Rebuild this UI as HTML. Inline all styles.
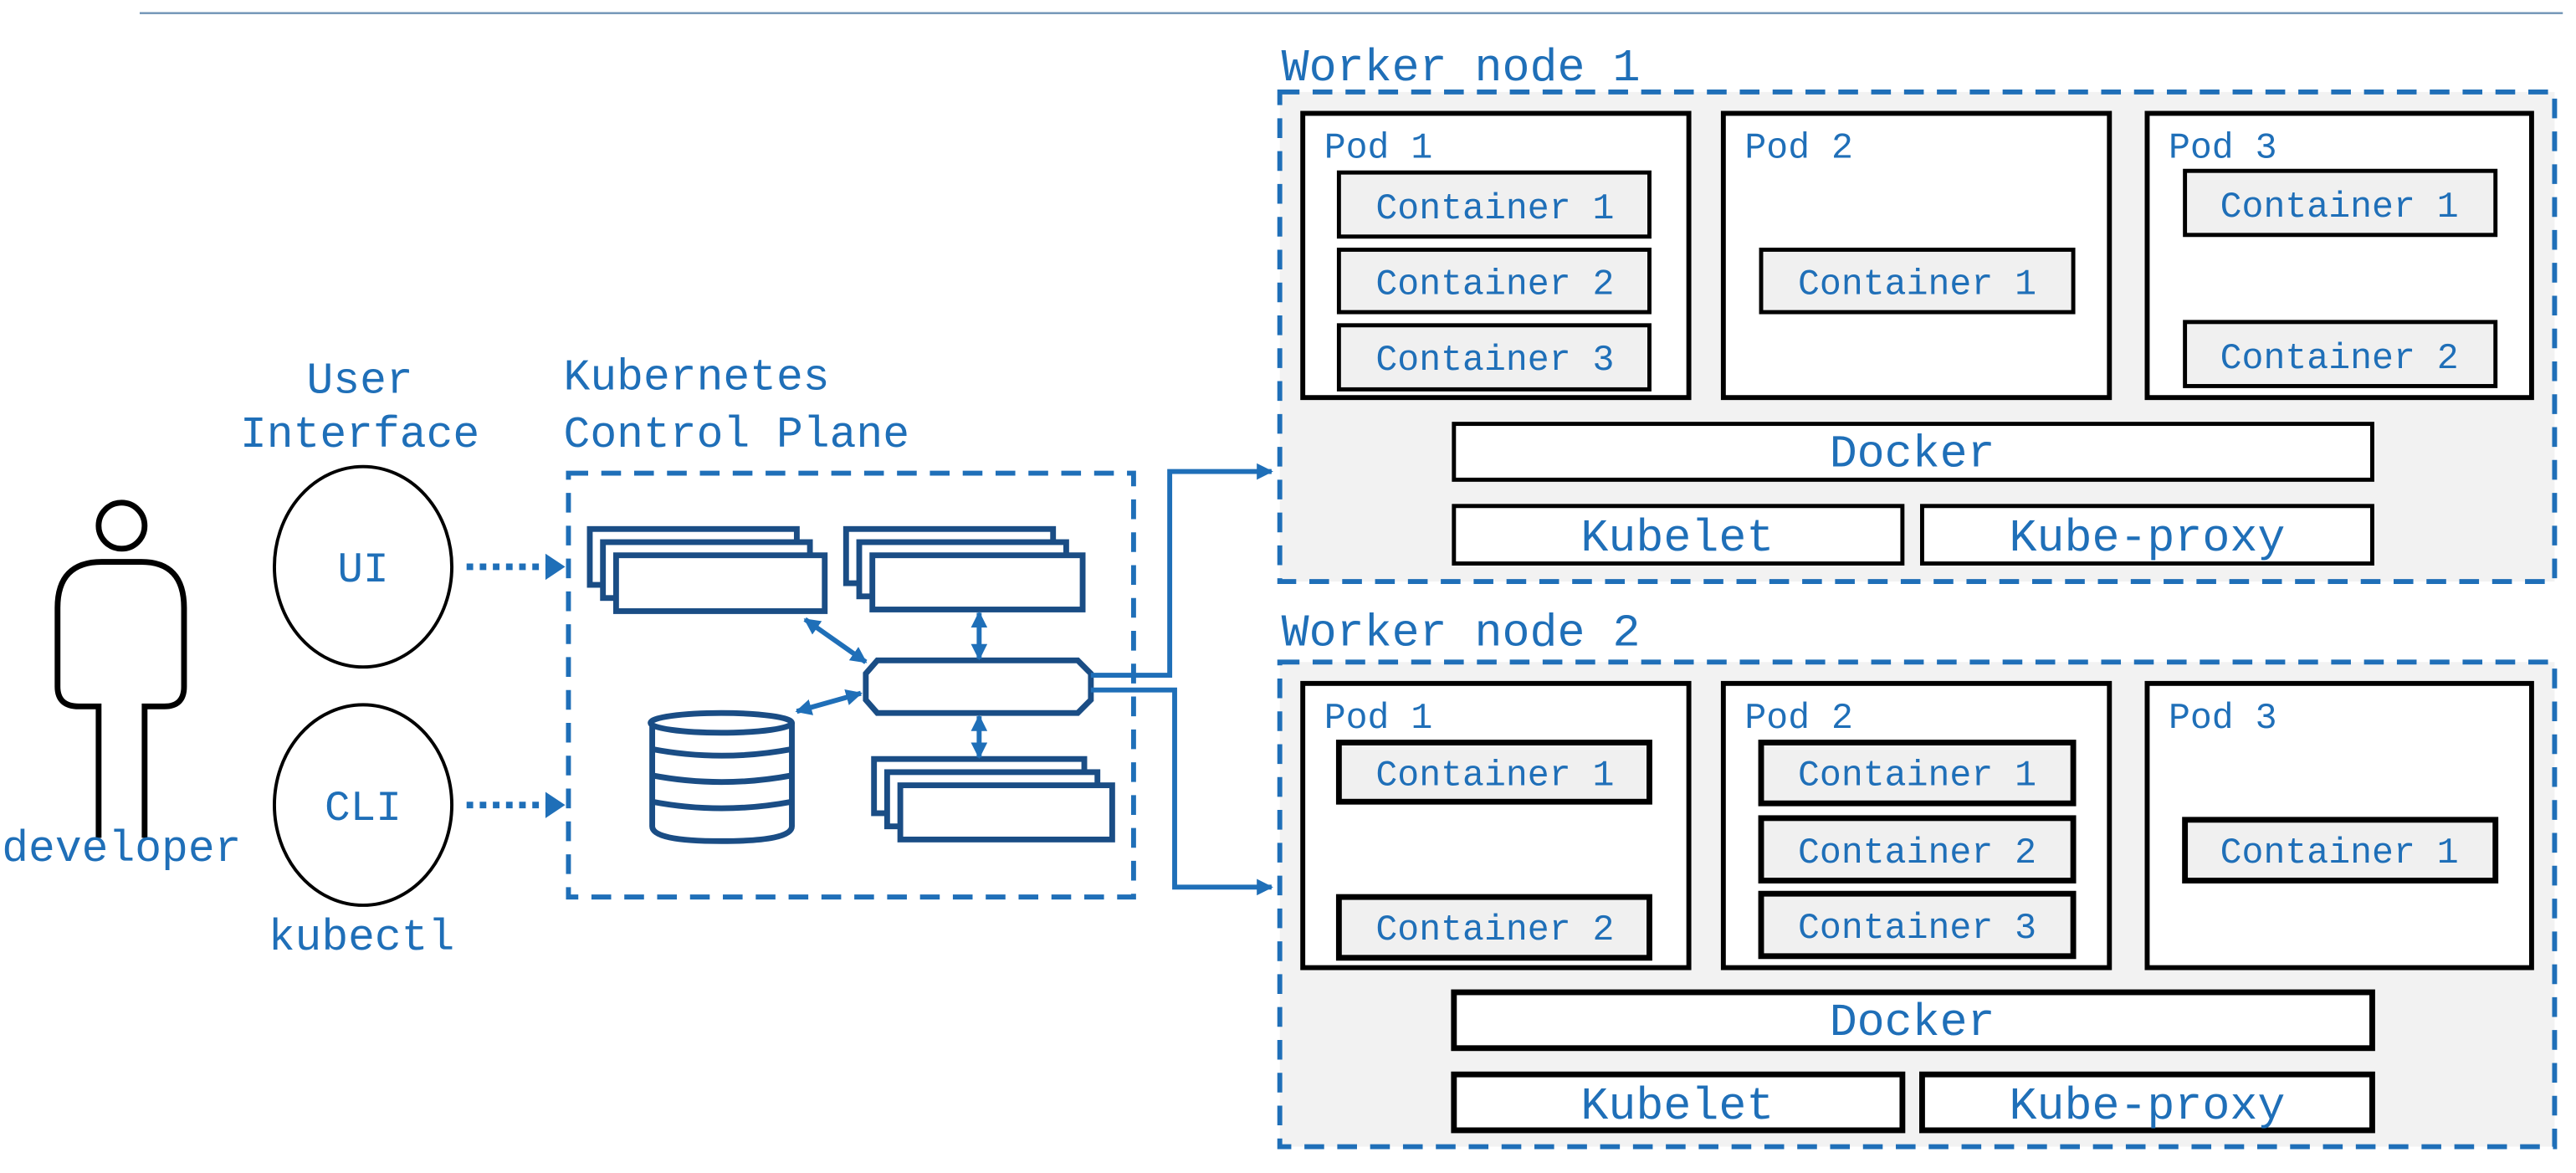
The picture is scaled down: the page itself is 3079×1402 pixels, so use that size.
<!DOCTYPE html>
<html><head><meta charset="utf-8"><style>
html,body{margin:0;padding:0;background:#fff;}
svg{display:block;}
text{font-family:"Liberation Mono",monospace;fill:#1f6fb8;}
</style></head><body>
<svg width="3079" height="1402" viewBox="0 0 1568 714" xmlns="http://www.w3.org/2000/svg">
<defs>
<marker id="ah" markerWidth="10" markerHeight="10" refX="9" refY="5" orient="auto" markerUnits="userSpaceOnUse"><path d="M0,0 L10,5 L0,10 Z" fill="#1f6fb8"/></marker>
<marker id="da" markerWidth="10" markerHeight="10" refX="9" refY="5" orient="auto-start-reverse" markerUnits="userSpaceOnUse"><path d="M0,0 L10,5 L0,10 Z" fill="#1f6fb8"/></marker>
</defs>
<line x1="85" y1="8" x2="1560" y2="8" stroke="#6f93b5" stroke-width="1.2"/>

<circle cx="74" cy="320" r="14" fill="none" stroke="#000" stroke-width="3.5"/>
<path d="M60,510 V430 H48 Q35,430 35,418 V370 Q35,342 62,342 H86 Q112,342 112,370 V418 Q112,430 100,430 H88 V510" fill="none" stroke="#000" stroke-width="3.5"/>
<text x="74" y="524" font-size="27" text-anchor="middle">developer</text>

<text x="219" y="239" font-size="27" text-anchor="middle">User</text>
<text x="219" y="272" font-size="27" text-anchor="middle">Interface</text>
<ellipse cx="221" cy="345" rx="54" ry="61" fill="#fff" stroke="#000" stroke-width="2"/>
<text x="221" y="354" font-size="26" text-anchor="middle">UI</text>
<ellipse cx="221" cy="490" rx="54" ry="61" fill="#fff" stroke="#000" stroke-width="2"/>
<text x="221" y="499" font-size="26" text-anchor="middle">CLI</text>
<text x="220" y="578" font-size="27" text-anchor="middle">kubectl</text>

<line x1="284" y1="345" x2="336" y2="345" stroke="#1f6fb8" stroke-width="4" stroke-dasharray="4,4"/>
<path d="M332,337 L344,345 L332,353 Z" fill="#1f6fb8"/>
<line x1="284" y1="490" x2="336" y2="490" stroke="#1f6fb8" stroke-width="4" stroke-dasharray="4,4"/>
<path d="M332,482 L344,490 L332,498 Z" fill="#1f6fb8"/>

<text x="343" y="237" font-size="27">Kubernetes</text>
<text x="343" y="272" font-size="27">Control Plane</text>
<rect x="346" y="288" width="344" height="258" fill="none" stroke="#1f6fb8" stroke-width="3" stroke-dasharray="12,8"/>

<g fill="#fff" stroke="#1a4d85" stroke-width="3.5">
<rect x="359" y="322" width="126" height="34"/><rect x="367" y="330" width="126" height="34"/><rect x="375" y="338" width="127" height="34"/>
<rect x="515" y="322" width="126" height="33"/><rect x="523" y="330" width="126" height="33"/><rect x="531" y="338" width="128" height="33"/>
<rect x="532" y="462" width="128" height="33"/><rect x="540" y="470" width="128" height="33"/><rect x="548" y="478" width="129" height="33"/>
<path d="M534,402 H656 L664,410 V426 L656,434 H534 L527,426 V410 Z"/>
<path d="M397,440 V503 Q397,512 439,512 Q482,512 482,503 V440"/>
<ellipse cx="439" cy="440" rx="43" ry="6"/>
<path d="M397,456 Q439,464 482,456 M397,472 Q439,480 482,472 M397,488 Q439,496 482,488" fill="none"/>
</g>
<g stroke="#1f6fb8" stroke-width="3" fill="none">
<line x1="490" y1="377" x2="527" y2="403" marker-start="url(#da)" marker-end="url(#da)"/>
<line x1="596" y1="373" x2="596" y2="401" marker-start="url(#da)" marker-end="url(#da)"/>
<line x1="596" y1="436" x2="596" y2="461" marker-start="url(#da)" marker-end="url(#da)"/>
<line x1="485" y1="433" x2="524" y2="422" marker-start="url(#da)" marker-end="url(#da)"/>
<path d="M664,411 H712 V287 H774" marker-end="url(#ah)"/>
<path d="M664,420 H715 V540 H774" marker-end="url(#ah)"/>
</g>

<text x="780" y="49" font-size="28">Worker node 1</text>
<rect x="779" y="56" width="776" height="298" fill="#f2f2f2" stroke="#1f6fb8" stroke-width="3" stroke-dasharray="12,8"/>
<g fill="#fff" stroke="#000" stroke-width="3">
<rect x="793" y="69" width="235" height="173"/>
<rect x="1049" y="69" width="235" height="173"/>
<rect x="1307" y="69" width="234" height="173"/>
</g>
<g fill="#f0f0f0" stroke="#000" stroke-width="2.5">
<rect x="815" y="105" width="189" height="39"/>
<rect x="815" y="152" width="189" height="38"/>
<rect x="815" y="198" width="189" height="39"/>
<rect x="1072" y="152" width="190" height="38"/>
<rect x="1330" y="104" width="189" height="39"/>
<rect x="1330" y="196" width="189" height="39"/>
</g>
<g fill="#fff" stroke="#000" stroke-width="2.5">
<rect x="885" y="258" width="559" height="34"/>
<rect x="885" y="308" width="273" height="35"/>
<rect x="1170" y="308" width="274" height="35"/>
</g>
<g font-size="22">
<text x="806" y="96">Pod 1</text><text x="1062" y="96">Pod 2</text><text x="1320" y="96">Pod 3</text>
<text x="910" y="133" text-anchor="middle">Container 1</text>
<text x="910" y="179" text-anchor="middle">Container 2</text>
<text x="910" y="225" text-anchor="middle">Container 3</text>
<text x="1167" y="179" text-anchor="middle">Container 1</text>
<text x="1424" y="132" text-anchor="middle">Container 1</text>
<text x="1424" y="224" text-anchor="middle">Container 2</text>
</g>
<g font-size="28" text-anchor="middle">
<text x="1164" y="284">Docker</text>
<text x="1021" y="335">Kubelet</text>
<text x="1307" y="335">Kube-proxy</text>
</g>

<text x="780" y="393" font-size="28">Worker node 2</text>
<rect x="779" y="403" width="776" height="295" fill="#f2f2f2" stroke="#1f6fb8" stroke-width="3" stroke-dasharray="12,8"/>
<g fill="#fff" stroke="#000" stroke-width="3">
<rect x="793" y="416" width="235" height="173"/>
<rect x="1049" y="416" width="235" height="173"/>
<rect x="1307" y="416" width="234" height="173"/>
</g>
<g fill="#f0f0f0" stroke="#000" stroke-width="3.5">
<rect x="815" y="452" width="189" height="36"/>
<rect x="815" y="546" width="189" height="37"/>
<rect x="1072" y="452" width="190" height="37"/>
<rect x="1072" y="498" width="190" height="38"/>
<rect x="1072" y="544" width="190" height="38"/>
<rect x="1330" y="499" width="189" height="37"/>
</g>
<g fill="#fff" stroke="#000" stroke-width="3.5">
<rect x="885" y="604" width="559" height="34"/>
<rect x="885" y="654" width="273" height="34"/>
<rect x="1170" y="654" width="274" height="34"/>
</g>
<g font-size="22">
<text x="806" y="443">Pod 1</text><text x="1062" y="443">Pod 2</text><text x="1320" y="443">Pod 3</text>
<text x="910" y="478" text-anchor="middle">Container 1</text>
<text x="910" y="572" text-anchor="middle">Container 2</text>
<text x="1167" y="478" text-anchor="middle">Container 1</text>
<text x="1167" y="525" text-anchor="middle">Container 2</text>
<text x="1167" y="571" text-anchor="middle">Container 3</text>
<text x="1424" y="525" text-anchor="middle">Container 1</text>
</g>
<g font-size="28" text-anchor="middle">
<text x="1164" y="630">Docker</text>
<text x="1021" y="681">Kubelet</text>
<text x="1307" y="681">Kube-proxy</text>
</g>
</svg>
</body></html>
